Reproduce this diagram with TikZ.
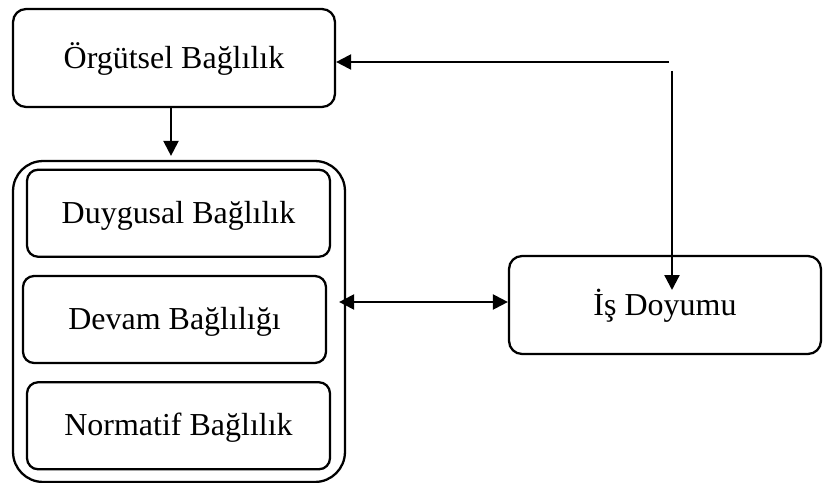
\documentclass[tikz,border=0pt]{standalone}
\usepackage{fontspec}
\setmainfont{Liberation Serif}
\usetikzlibrary{arrows.meta, positioning}
\tikzstyle{arrow} = [line width=1.3pt, -{Triangle[length=0.3cm, width=0.3cm]}]
\tikzstyle{dblarrow} = [line width=1.3pt, {Triangle[length=0.3cm, width=0.3cm]}-{Triangle[length=0.3cm, width=0.3cm]}]
\tikzstyle{concept} = [rectangle, rounded corners=0.26cm, draw=black, line width=1.3pt, minimum width=6.44cm, minimum height=1.96cm, text height=1.15em, text depth=0pt, text centered]
\tikzstyle{dimension} = [concept, rounded corners=0.22cm, minimum width=6.06cm, minimum height=1.74cm]
\tikzstyle{group} = [rectangle, rounded corners=0.6cm, draw=black, line width=1.3pt, minimum width=6.64cm, minimum height=6.42cm]

\begin{document}
\begin{tikzpicture}[x=0.02cm, y=-0.02cm, font=\fontsize{18.2pt}{22pt}\selectfont]
\useasboundingbox (0,0) rectangle (823,483);
% Placement of nodes
\node (orgCommit) [concept] at (174,58) {Örgütsel Bağlılık};
\node (dims) [group] at (179,321.5) {};
\node (devam) [dimension] at (174.5,319.5) {Devam Bağlılığı};
\node (duygusal) [dimension, above=0.34cm of devam, xshift=0.08cm] {Duygusal Bağlılık};
\node (normatif) [dimension, below=0.34cm of devam, xshift=0.08cm] {Normatif Bağlılık};
\node (jobSat) [concept, minimum width=6.24cm] at (665,305) {İş Doyumu};

% Free ends of the feedback lines
\coordinate (fbTop) at (669,62);
\coordinate (fbDown) at (672,71);

% Placement of edges
\draw [arrow] ([xshift=-0.06cm]orgCommit.south) -- ([xshift=-0.06cm, yshift=0.08cm]orgCommit.south |- dims.north);
\draw [dblarrow, shorten <=-0.14cm] ([yshift=0.06cm]jobSat.west -| dims.east) -- ([yshift=0.06cm]jobSat.west);
\draw [arrow] (fbTop) -- (fbTop -| orgCommit.east);
\draw [arrow] (fbDown) -- ([yshift=0.3cm]jobSat.center -| fbDown);
\end{tikzpicture}
\end{document}
